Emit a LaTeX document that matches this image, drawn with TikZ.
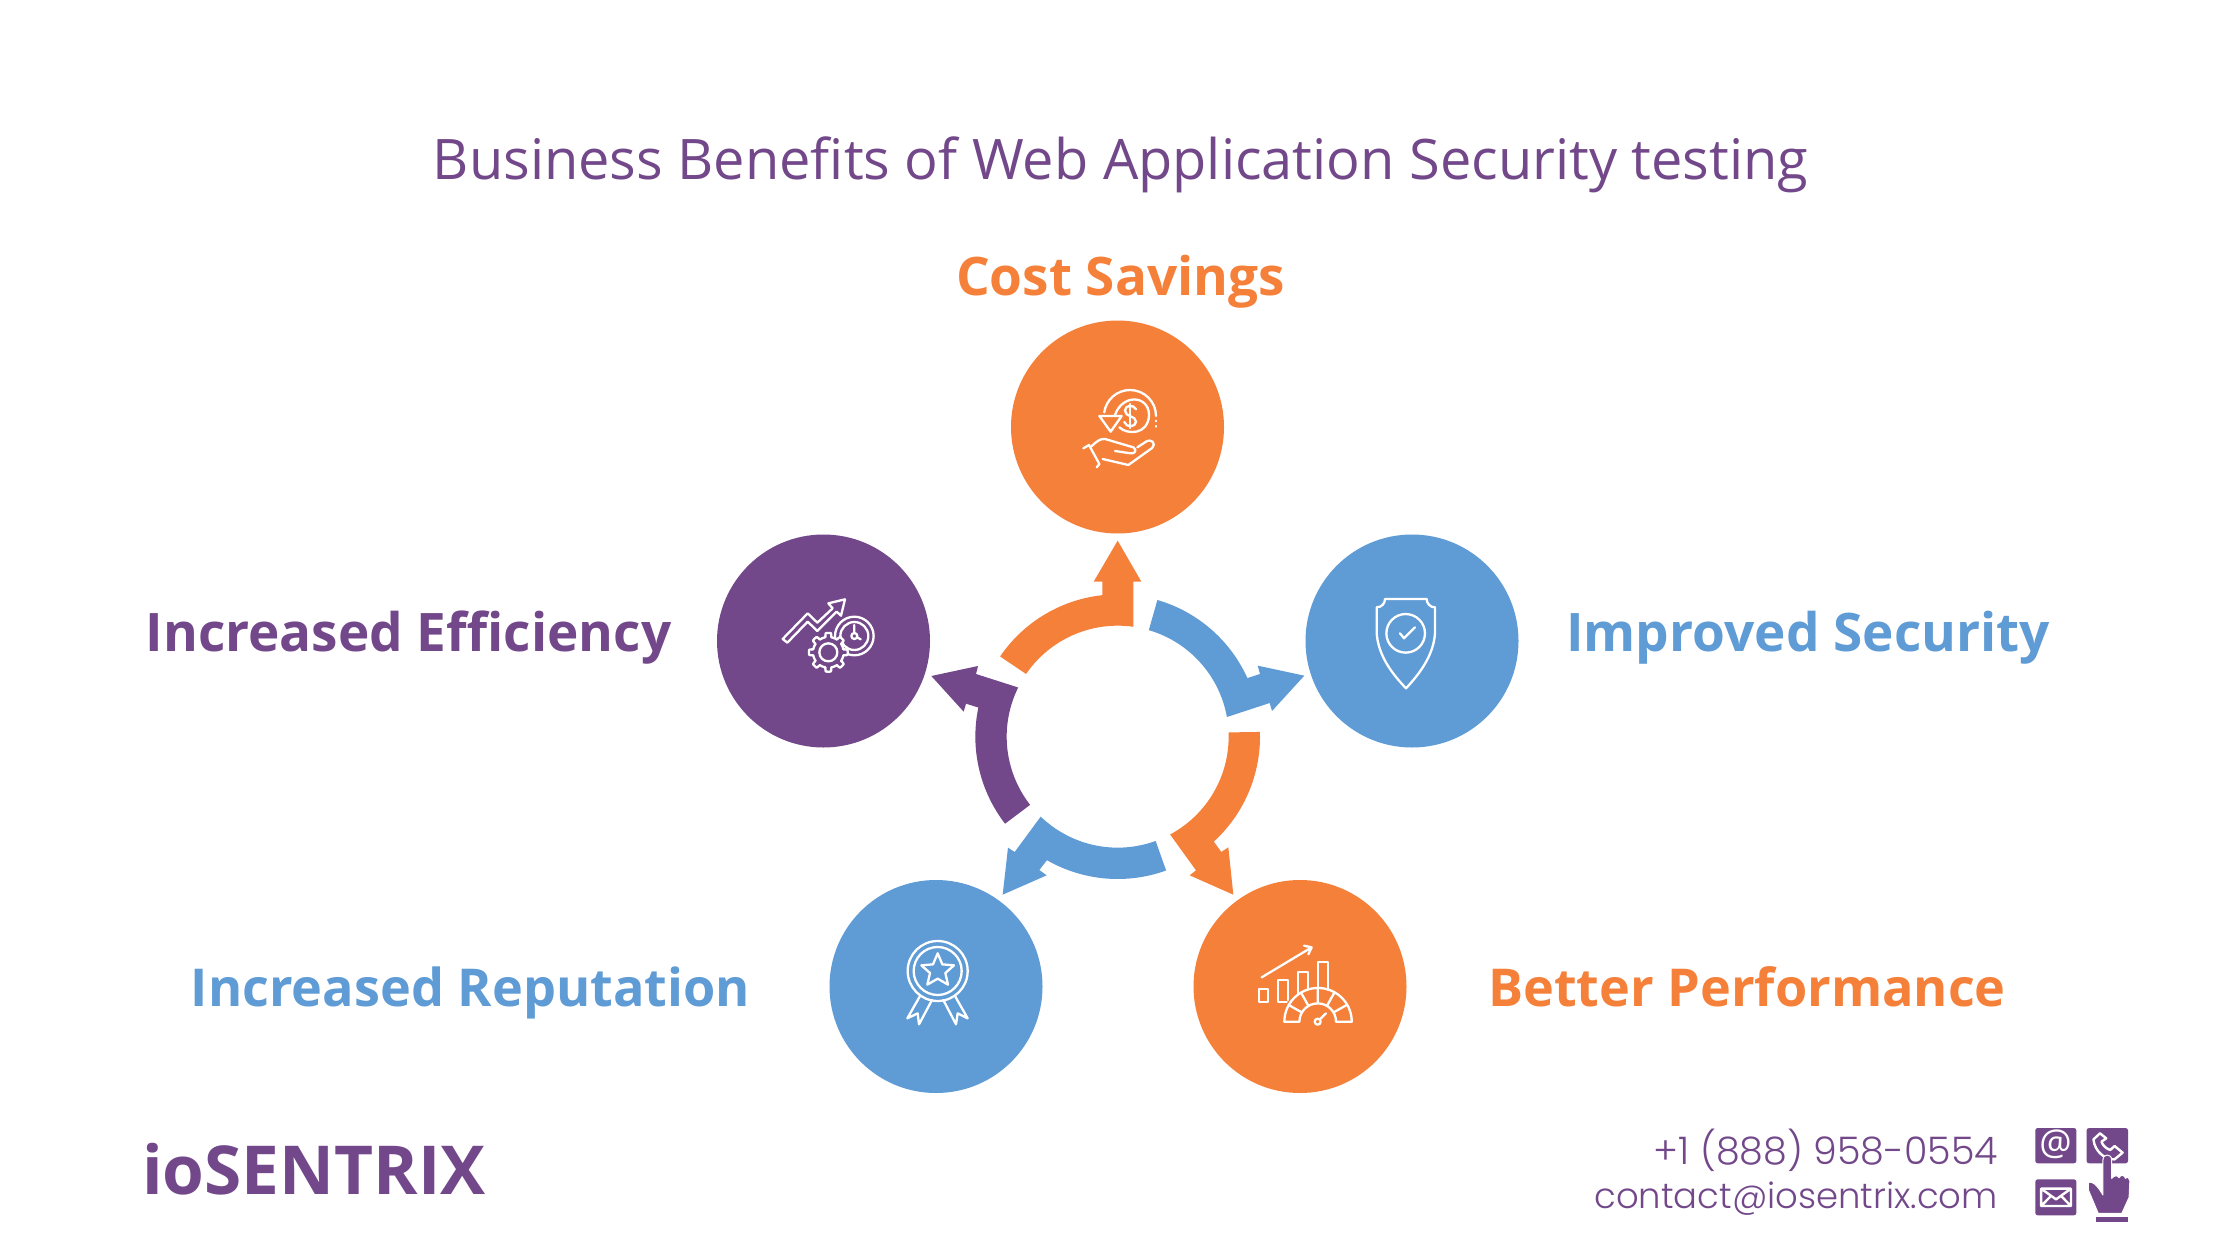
\documentclass[tikz,border=0pt]{standalone}
\usepackage{fontspec}
\setmainfont{Open Sans}
\newfontfamily\contactfont{Poppins Light}
\definecolor{cOrange}{HTML}{F5803A}
\definecolor{cBlue}{HTML}{5F9BD5}
\definecolor{cPurple}{HTML}{73488A}
\tikzset{
  disc/.style={circle,minimum size=213pt,inner sep=0pt,fill=#1},
  lab/.style={font=\fontsize{53.1}{60}\selectfont\bfseries,text=#1,inner sep=0pt},
  labs/.style={font=\fontsize{52.2}{60}\selectfont\bfseries,text=#1,inner sep=0pt},
  ico/.style={draw=white,line width=2.3pt,line join=round,line cap=round},
  ftr/.style={text=cPurple,inner sep=0pt,anchor=base east}
}
\begin{document}
\begin{tikzpicture}[x=1pt,y=-1pt]
\useasboundingbox[fill=white] (0,0) rectangle (2240,1260);
% discs
\node[disc=cOrange] (top) at (1117.5,427) {};
\node[disc=cBlue] (right) at (1412,641) {};
\node[disc=cPurple] (left) at (823.5,641) {};
\node[disc=cBlue] (bl) at (936,986.5) {};
\node[disc=cOrange] (br) at (1300,986.5) {};
% text
\node[text=cPurple,inner sep=0pt,anchor=base,font=\fontsize{55.9}{60}\selectfont] (title) at (1120.5,180) {Business Benefits of Web Application Security testing};
\node[lab=cOrange,anchor=base] (l1) at (1120.5,295) {Cost Savings};
\node[lab=cBlue,anchor=base west] (l2) at (1566,651) {Improved Security};
\node[labs=cOrange,anchor=base west] (l3) at (1488,1006) {Better Performance};
\node[labs=cBlue,anchor=base east] (l4) at (750,1006) {Increased Reputation};
\node[lab=cPurple,anchor=base east] (l5) at (671.5,651) {Increased Efficiency};
\node[text=cPurple,inner sep=0pt,anchor=base west,font=\fontsize{67.5}{70}\selectfont\bfseries] (brand) at (142,1194) {ioSENTRIX};
\node[ftr,font=\fontsize{38}{44}\selectfont\contactfont] (phone) at (1998,1164) {+1 (888) 958-0554};
\node[ftr,font=\fontsize{35.4}{44}\selectfont\contactfont] (mail) at (1998,1208) {contact@iosentrix.com};
% ring arrows, coordinates in the 3x crop of (950,520)
\begin{scope}[shift={(950,520)},x=0.33333pt,y=-0.33333pt]
\fill[cOrange] plot[domain=-145.7:-96.2,samples=30] ({503+427*cos(\x)},{650+427*sin(\x)}) -- (457,185) -- (431,185) -- (503,62) -- (574,185) -- (550,185) -- plot[domain=-81.9:-145.6,samples=30] ({503+333*cos(\x)},{650+333*sin(\x)}) -- cycle;
\fill[cBlue] plot[domain=-73.8:-24.3,samples=30] ({503+427*cos(\x)},{650+427*sin(\x)}) -- (930,462) -- (923,437) -- (1063,467) -- (966,573) -- (959,549) -- plot[domain=-10.2:-73.7,samples=30] ({503+333*cos(\x)},{650+333*sin(\x)}) -- cycle;
\fill[cOrange] plot[domain=-1.9:47.5,samples=30] ({503+427*cos(\x)},{650+427*sin(\x)}) -- (814,996) -- (835,982) -- (850,1124) -- (719,1066) -- (738,1051) -- plot[domain=61.8:-2.2,samples=30] ({503+333*cos(\x)},{650+333*sin(\x)}) -- cycle;
\fill[cBlue] plot[domain=70.1:119.8,samples=30] ({503+427*cos(\x)},{650+427*sin(\x)}) -- (268,1050) -- (290,1066) -- (158,1124) -- (174,983) -- (194,996) -- plot[domain=133.9:70,samples=30] ({503+333*cos(\x)},{650+333*sin(\x)}) -- cycle;
\fill[cPurple] plot[domain=142.3:191.8,samples=30] ({503+427*cos(\x)},{650+427*sin(\x)}) -- (48,551) -- (41,575) -- (-56,468) -- (84,438) -- (78,462) -- plot[domain=206.3:142.1,samples=30] ({503+333*cos(\x)},{650+333*sin(\x)}) -- cycle;
\end{scope}
% icon: cost savings
\begin{scope}[shift={(1040,340)},x=0.33333pt,y=-0.33333pt]
\draw[ico] (348,228) arc[start angle=0,end angle=172,radius=26pt];
\draw[ico] (238,262) .. controls (262,285) and (325,285) .. (327,225) .. controls (327,165) and (245,160) .. (224,228);
\draw[ico] (178,228) -- (245,228) -- (212,275) -- cycle;
\draw[ico] (348,242) -- (348,244) (348,258) -- (348,260);
\draw[ico] (288,208) .. controls (280,192) and (255,195) .. (255,212) .. controls (255,232) and (288,226) .. (288,245) .. controls (288,262) and (258,264) .. (253,246);
\draw[ico] (271,192) -- (271,264);
\draw[ico] (130,325) -- (147,315) -- (178,372) -- (170,382);
\draw[ico] (155,318) .. controls (170,305) and (180,295) .. (195,297) -- (280,322) .. controls (292,330) and (285,342) .. (272,340) -- (225,333);
\draw[ico] (188,357) -- (265,375) -- (335,325) .. controls (350,310) and (335,295) .. (318,305) -- (292,322);
\end{scope}
% icon: shield
\begin{scope}[shift={(1350,570)},x=0.33333pt,y=-0.33333pt]
\draw[ico] (105,87) -- (230,87) .. controls (230,100) and (240,112) .. (255,112) -- (255,190) .. controls (250,260) and (205,315) .. (168,355) .. controls (130,315) and (85,260) .. (80,190) -- (80,112) .. controls (95,112) and (105,100) .. (105,87) -- cycle;
\draw[ico] (167,190) circle[radius=19.3pt];
\draw[ico] (150,190) -- (162,205) -- (195,172);
\end{scope}
% icon: efficiency
\begin{scope}[shift={(760,570)},x=0.33333pt,y=-0.33333pt]
\draw[ico] (68,207) -- (143,130) -- (172,158) -- (218,115) -- (205,100) -- (255,88) -- (243,137) -- (230,125) -- (172,183) -- (143,155) -- (82,218) -- cycle;
\draw[ico] (283,198) circle[radius=19.3pt];
\draw[ico] (283,198) circle[radius=14pt];
\draw[ico] (283,198) circle[radius=3pt];
\draw[ico] (283,165) -- (283,190) (291,202) -- (302,208);
\draw[ico,fill=cPurple] plot[domain=0:360,samples=193] ({205+(46+12*max(0,min(1,2.5*cos(8*\x))))*cos(\x)},{247+(46+12*max(0,min(1,2.5*cos(8*\x))))*sin(\x)}) -- cycle;
\draw[ico] (205,247) circle[radius=9pt];
\end{scope}
% icon: rosette
\begin{scope}[shift={(870,920)},x=0.33333pt,y=-0.33333pt]
\draw[ico] (203,153) circle[radius=30pt];
\draw[ico] (203,153) circle[radius=24pt];
\draw[ico] (203,100) -- (217,133) -- (252,136) -- (226,159) -- (234,194) -- (203,176) -- (172,194) -- (180,159) -- (154,136) -- (189,133) -- cycle;
\draw[ico] (150,228) -- (112,295) -- (143,280) -- (147,313) -- (186,240);
\draw[ico] (220,240) -- (258,313) -- (263,280) -- (293,295) -- (255,228);
\end{scope}
% icon: performance
\begin{scope}[shift={(1230,920)},x=0.33333pt,y=-0.33333pt]
\draw[ico] (87,207) rectangle (115,245);
\draw[ico] (173,240) -- (173,180) -- (145,180) -- (145,247) -- (170,247);
\draw[ico] (205,220) -- (205,155) -- (235,155) -- (235,207);
\draw[ico] (265,205) -- (265,127) -- (295,127) -- (295,210);
\draw[ico] (95,172) -- (245,82) (222,77) -- (245,82) -- (235,103);
\draw[ico] (163,305) arc[start angle=180,end angle=0,radius=33.7pt] -- (318,305) arc[start angle=0,end angle=180,radius=18.3pt] -- cycle;
\draw[ico] (215,277) -- (176,255) (235,257) -- (213,218) (263,250) -- (263,205) (291,257) -- (313,218) (311,277) -- (350,255);
\draw[ico] (263,305) circle[radius=3pt];
\draw[ico] (270,298) -- (288,280);
\end{scope}
% contact icons
\begin{scope}[shift={(1580,1110)},x=0.36364pt,y=-0.33333pt]
\fill[cPurple,rounded corners=2.5pt] (1252,54) rectangle (1365,160);
\fill[cPurple,rounded corners=2.5pt] (1393,54) rectangle (1507,160);
\fill[cPurple,rounded corners=2.5pt] (1252,208) rectangle (1365,316);
\node[text=white,inner sep=0pt,font=\fontsize{36}{38}\selectfont] (at) at (1308,104) {@};
\draw[white,line width=2.4pt,line join=round] (1430,70) -- (1412,88) .. controls (1415,125) and (1445,150) .. (1470,148) -- (1492,128) -- (1470,108) -- (1458,120) .. controls (1445,115) and (1437,105) .. (1434,95) -- (1447,85) -- cycle;
\draw[white,line width=2.4pt,line join=round] (1268,236) rectangle (1350,288) (1268,236) -- (1309,268) -- (1350,236) (1268,288) -- (1295,258) (1350,288) -- (1323,258);
\draw[white,line width=1pt,fill=cPurple,line join=round] (1438,150) .. controls (1438,130) and (1462,130) .. (1462,150) -- (1462,205) .. controls (1470,195) and (1478,195) .. (1482,203) .. controls (1488,192) and (1497,195) .. (1500,205) .. controls (1505,198) and (1512,205) .. (1512,212) -- (1510,262) -- (1490,310) -- (1425,310) -- (1398,240) -- (1398,218) .. controls (1405,212) and (1420,220) .. (1438,255) -- cycle;
\fill[cPurple] (1418,320) rectangle (1507,335);
\end{scope}
\end{tikzpicture}
\end{document}
